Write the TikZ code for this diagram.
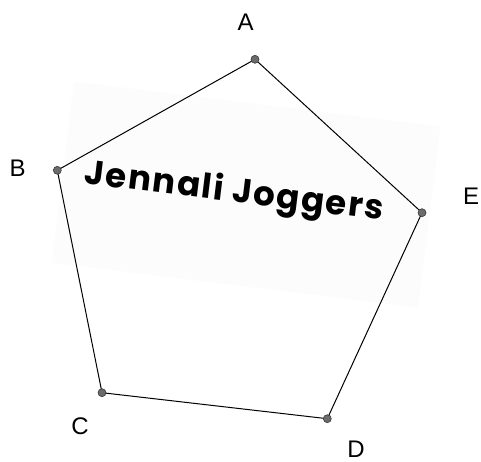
\documentclass[tikz,border=0pt]{standalone}
\usepackage{fontspec}
\setmainfont{Liberation Sans}
\newfontfamily\jogfont[LetterSpace=5]{Poppins}
\usepackage{xcolor}
\definecolor{ptfill}{HTML}{6B6B6B}
\definecolor{ptdraw}{HTML}{3A3A3A}
\definecolor{bannerbg}{HTML}{FCFCFC}

\tikzset{
  vertex/.style={circle,fill=ptfill,draw=ptdraw,line width=0.6pt,inner sep=0pt,minimum size=8pt},
  vlabel/.style={font=\fontsize{24}{24}\selectfont}
}

\begin{document}
\begin{tikzpicture}[x=1pt,y=-1pt]
              \useasboundingbox (0,0) rectangle (481,462);
              % banner behind the name
              \fill[bannerbg,rotate around={-7:(246,194.6)}] (61.3,103.2) rectangle (430.7,286);
              \node[rotate=-7,font=\jogfont\bfseries\fontsize{34}{34}\selectfont] (name) at (234,193) {Jennali Joggers};
              \coordinate (A) at (255,59.3);
              \coordinate (B) at (57.3,170.3);
              \coordinate (C) at (102,392.7);
              \coordinate (D) at (327.3,418.7);
              \coordinate (E) at (422,212.7);
              \draw[line width=1pt] (A) -- (B) -- (C) -- (D) -- (E) -- cycle;
              \foreach \p in {A,B,C,D,E} \node[vertex] at (\p) {};
              \node[vlabel] (lA) at (245.7,22.7) {A};
              \node[vlabel] (lB) at (17.7,168.3) {B};
              \node[vlabel] (lC) at (80,426.7) {C};
              \node[vlabel] (lD) at (356,449.5) {D};
              \node[vlabel] (lE) at (471,196.7) {E};
            \end{tikzpicture}
\end{document}
